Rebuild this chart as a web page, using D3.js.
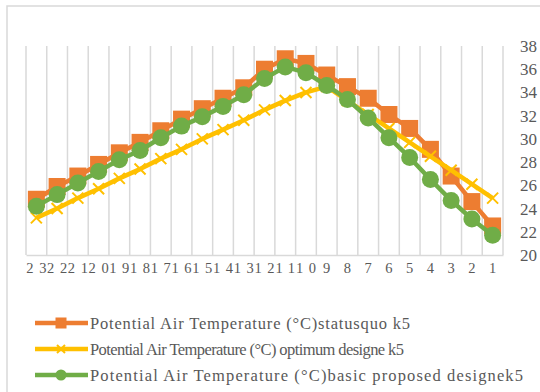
<!DOCTYPE html>
<html>
<head>
<meta charset="utf-8">
<script src="https://cdn.jsdelivr.net/npm/d3@7"></script>
<style>
  html, body { margin: 0; padding: 0; background: #fff; }
  svg { display: block; }
</style>
</head>
<body>
<script>
// ---- data ----
const categories = ["23","22","21","20","19","18","17","16","15","14","13","12","11","10","9","8","7","6","5","4","3","2","1"];
const statusquo = [24.8,25.9,26.8,27.8,28.8,29.7,30.7,31.7,32.6,33.5,34.4,36.0,36.9,36.5,35.5,34.5,33.5,32.1,30.9,29.1,26.8,24.6,22.5];
const optimum   = [23.2,24.0,24.9,25.7,26.6,27.4,28.3,29.1,30.0,30.8,31.6,32.5,33.3,34.0,34.5,33.3,32.1,30.9,29.7,28.5,27.3,26.1,24.9];
const basic     = [24.2,25.2,26.2,27.2,28.2,29.0,30.1,31.1,31.9,32.8,33.8,35.2,36.2,35.7,34.6,33.4,31.8,30.1,28.4,26.5,24.7,23.1,21.7];
const yTicks = [20,22,24,26,28,30,32,34,36,38];
const seriesNames = [
  "Potential Air Temperature (°C)statusquo k5",
  "Potential Air Temperature (°C) optimum designe k5",
  "Potential Air Temperature (°C)basic proposed designek5"
];

// ---- layout ----
const FONT = "'Liberation Serif', 'Times New Roman', serif";
const W = 540, H = 392;
const svg = d3.select("body").append("svg").attr("width", W).attr("height", H)
  .attr("font-family", FONT);

// outer chart border
svg.append("rect").attr("x", 7).attr("y", 6).attr("width", 560).attr("height", 420)
  .attr("fill", "none").attr("stroke", "#d9d9d9").attr("stroke-width", 1.5);

const x = d3.scaleBand().domain(categories).range([26, 503]);
const y = d3.scaleLinear().domain([20, 38]).range([255, 46]);
const cx = c => x(c) + x.bandwidth() / 2;

// vertical gridlines at category boundaries
const bounds = categories.map(c => x(c)).concat([x.range()[1]]);
svg.append("g").selectAll("line").data(bounds).join("line")
  .attr("x1", d => d).attr("x2", d => d)
  .attr("y1", y(38)).attr("y2", y(20))
  .attr("stroke", "#d9d9d9").attr("stroke-width", 1.5);

// x axis
const xAxis = svg.append("g").attr("transform", `translate(0,${y(20)})`)
  .call(d3.axisBottom(x).tickSize(0))
  .attr("font-family", FONT).attr("font-size", 14.5);
xAxis.select(".domain").attr("stroke", "#d9d9d9").attr("stroke-width", 1.5);
xAxis.selectAll("text")
  .attr("dy", 0).attr("y", 18).attr("fill", "#595959")
  .each(function(d) {
    const t = d3.select(this);
    const chars = String(d).split("");
    if (chars.length > 1) {
      t.text(null);
      chars.forEach((ch, k) => {
        t.append("tspan").attr("dx", k === 0 ? 0 : 5.6).text(ch);
      });
    }
  });

// y axis on right
const yAxis = svg.append("g").attr("transform", `translate(512,0)`)
  .call(d3.axisRight(y).tickValues(yTicks).tickSize(0))
  .attr("font-family", FONT).attr("font-size", 17);
yAxis.select(".domain").remove();
yAxis.selectAll("text").attr("x", 8).attr("fill", "#595959");

// series
const series = [
  { name: seriesNames[0], values: statusquo, color: "#ED7D31", marker: "square" },
  { name: seriesNames[1], values: optimum,   color: "#FFC000", marker: "x" },
  { name: seriesNames[2], values: basic,     color: "#70AD47", marker: "circle" }
];

const line = d3.line().x((d, i) => cx(categories[i])).y(d => y(d));

function drawMarker(g, type, color, px, py, size) {
  if (type === "square") {
    g.append("rect").attr("x", px - size/2).attr("y", py - size/2)
      .attr("width", size).attr("height", size).attr("fill", color);
  } else if (type === "circle") {
    g.append("circle").attr("cx", px).attr("cy", py).attr("r", size/2).attr("fill", color);
  } else {
    const s = size/2;
    g.append("path").attr("d", `M${px-s},${py-s}L${px+s},${py+s}M${px-s},${py+s}L${px+s},${py-s}`)
      .attr("stroke", color).attr("stroke-width", 2).attr("fill", "none");
  }
}

series.forEach(s => {
  const g = svg.append("g");
  g.append("path").datum(s.values).attr("d", line)
    .attr("fill", "none").attr("stroke", s.color).attr("stroke-width", 4.5)
    .attr("stroke-linejoin", "round");
  const size = s.marker === "x" ? 11 : 17;
  s.values.forEach((v, i) => drawMarker(g, s.marker, s.color, cx(categories[i]), y(v), size));
});

// legend
const legendY = [323, 349, 375];
const legendLen = [320, 314, 433];
series.forEach((s, i) => {
  const g = svg.append("g");
  const ly = legendY[i];
  g.append("line").attr("x1", 35).attr("x2", 88).attr("y1", ly).attr("y2", ly)
    .attr("stroke", s.color).attr("stroke-width", 4.5);
  drawMarker(g, s.marker, s.color, 61, ly, s.marker === "x" ? 8 : 11);
  g.append("text").attr("x", 90).attr("y", ly).attr("dy", "0.35em")
    .attr("font-size", 16.5).attr("fill", "#595959")
    .attr("textLength", legendLen[i]).attr("lengthAdjust", "spacing")
    .text(s.name);
});
</script>
</body>
</html>
